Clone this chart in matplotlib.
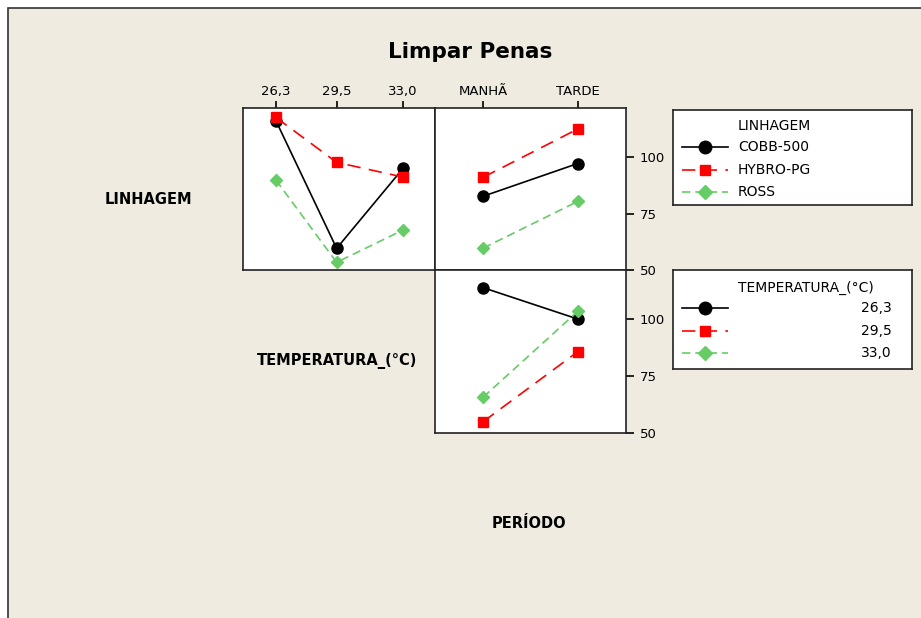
import matplotlib
import matplotlib.pyplot as plt
from matplotlib.patches import Rectangle

matplotlib.use("agg")

W, H = 921, 618

temps = [26.3, 29.5, 33.0]
temp_labels = ["26,3", "29,5", "33,0"]
periodos = ["MANHÃ", "TARDE"]
linhagens = ["COBB-500", "HYBRO-PG", "ROSS"]

# LINHAGEM x TEMPERATURA
cobb_temp = [116.1, 59.6, 95.0]
hybro_temp = [117.6, 97.7, 91.2]
ross_temp = [89.8, 53.4, 67.7]

# LINHAGEM x PERIODO
cobb_per = [82.7, 97.2]
hybro_per = [91.1, 112.5]
ross_per = [59.7, 80.4]

# TEMPERATURA x PERIODO
t263_per = [114.0, 100.2]
t295_per = [55.0, 85.8]
t330_per = [65.8, 103.6]

y_ticks = [50, 75, 100]
y_lim = (50, 121.8)

styles = [
    dict(color="black", marker="o", ms=8, lw=1.2, ls="-"),
    dict(color="#ff0000", marker="s", ms=6.5, lw=1.2, ls=(0, (8, 5))),
    dict(color="#66cc66", marker="D", ms=6, lw=1.2, ls=(0, (5, 3))),
]
BG = "#f0ebe1"


def px(x0, y0, x1, y1):
    return [x0 / W, 1 - y1 / H, (x1 - x0) / W, (y1 - y0) / H]


fig = plt.figure(figsize=(W / 100, H / 100), dpi=100)
fig.patch.set_facecolor("white")
fig.patches.append(Rectangle((8 / W, -0.1), 1.1, 1.1 - 8 / H,
                             transform=fig.transFigure, facecolor=BG,
                             edgecolor="#333333", lw=1.2, zorder=-10))

ax_tl = fig.add_axes(px(243, 108, 435, 270))
ax_tr = fig.add_axes(px(435, 108, 626, 270))
ax_br = fig.add_axes(px(435, 270, 626, 433))

for ax in (ax_tl, ax_tr, ax_br):
    ax.set_facecolor("white")
    ax.set_ylim(*y_lim)
    for s in ax.spines.values():
        s.set_linewidth(1.2)
        s.set_color("#222222")
    ax.tick_params(bottom=False, left=False, labelbottom=False, labelleft=False,
                   top=False, right=False, labeltop=False, labelright=False)

# top-left: linhagem vs temperatura
for vals, st in zip([cobb_temp, hybro_temp, ross_temp], styles):
    ax_tl.plot(temps, vals, **st)
ax_tl.set_xlim(24.56, 34.69)
ax_tl.set_xticks(temps)
ax_tl.set_xticklabels(temp_labels)
ax_tl.set_yticks([])

# top-right: linhagem vs periodo
xp = range(len(periodos))
for vals, st in zip([cobb_per, hybro_per, ross_per], styles):
    ax_tr.plot(xp, vals, **st)
ax_tr.set_xlim(-0.51, 1.51)
ax_tr.set_xticks(list(xp))
ax_tr.set_xticklabels(periodos)

# bottom-right: temperatura vs periodo
for vals, st in zip([t263_per, t295_per, t330_per], styles):
    ax_br.plot(xp, vals, **st)
ax_br.set_xlim(-0.51, 1.51)
ax_br.set_xticks([])

for ax in (ax_tl, ax_tr):
    ax.tick_params(top=True, labeltop=True, direction="out", length=5,
                   width=1.2, pad=2, labelsize=9.5)
for ax in (ax_tr, ax_br):
    ax.set_yticks(y_ticks)
    ax.tick_params(axis="y", right=True, labelright=True, direction="out",
                   length=6, width=1.2, pad=4, labelsize=9.5)

fig.text(470 / W, 1 - 52 / H, "Limpar Penas", ha="center", va="center",
         fontsize=15.5, fontweight="bold")
fig.text(148 / W, 1 - 199 / H, "LINHAGEM", ha="center", va="center",
         fontsize=10.5, fontweight="bold")
fig.text(337 / W, 1 - 361 / H, "TEMPERATURA_(°C)", ha="center", va="center",
         fontsize=10.5, fontweight="bold")
fig.text(529 / W, 1 - 523 / H, "PERÍODO", ha="center", va="center",
         fontsize=10.5, fontweight="bold")


def legend_box(box, title, labels, rows, title_y, right_labels):
    x0, y0, x1, y1 = box
    lg = fig.add_axes(px(*box))
    lg.set_xlim(0, x1 - x0)
    lg.set_ylim(y1 - y0, 0)
    lg.set_xticks([])
    lg.set_yticks([])
    lg.set_facecolor("white")
    for s in lg.spines.values():
        s.set_linewidth(1.2)
        s.set_color("#222222")
    lg.text(65, title_y, title, ha="left", va="center", fontsize=10)
    for lab, ry, st in zip(labels, rows, styles):
        lg.plot([9, 55], [ry, ry], color=st["color"], ls=st["ls"], lw=st["lw"])
        lg.plot([32], [ry], color=st["color"], marker=st["marker"],
                ms=st["ms"] + 1, ls="none")
        if right_labels:
            lg.text(219, ry, lab, ha="right", va="center", fontsize=10)
        else:
            lg.text(65, ry, lab, ha="left", va="center", fontsize=10)


legend_box((673, 110, 912, 205), "LINHAGEM", linhagens, [37.3, 60, 82.3], 15.7, False)
legend_box((673, 270, 912, 369), "TEMPERATURA_(°C)", temp_labels, [38, 60.7, 83], 18, True)

fig.savefig("out.png", dpi=100, facecolor=fig.get_facecolor())
plt.close(fig)
